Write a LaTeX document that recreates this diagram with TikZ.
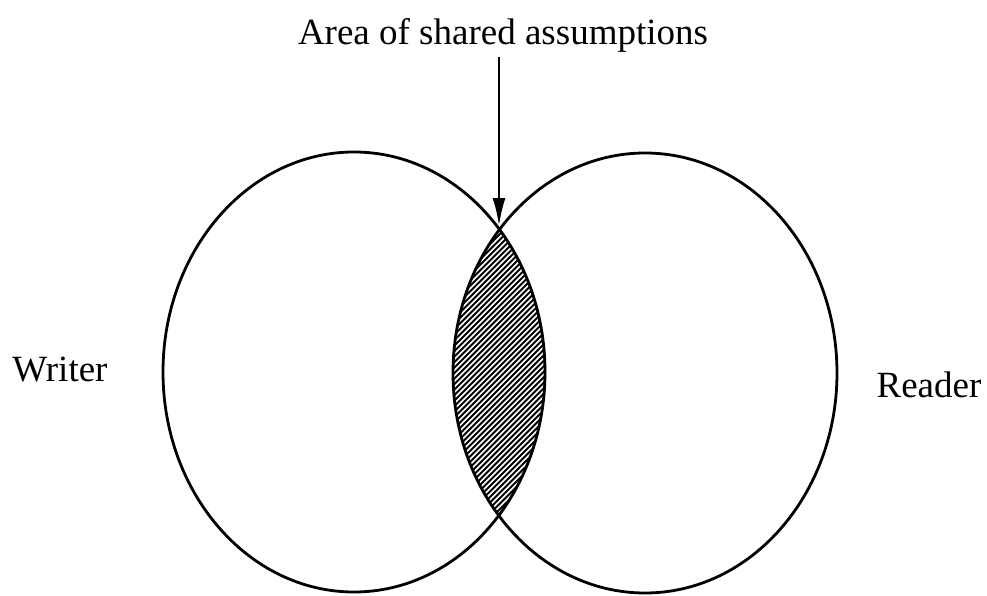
\documentclass[tikz,border=0pt]{standalone}
\usepackage{fontspec}
\setmainfont{Liberation Serif}
\usetikzlibrary{arrows.meta}
\begin{document}
\begin{tikzpicture}[x=1pt,y=-1pt,
  outline/.style={line width=2.8pt},
  hatch/.style={line width=1.8pt},
  lbl/.style={font=\fontsize{37}{42}\selectfont, inner sep=0pt, anchor=base},
  pointer/.style={line width=2.6pt, -{Latex[length=28pt,width=13pt]}}]
\useasboundingbox (0,0) rectangle (987,596);
% hatched overlap
\begin{scope}
  \clip (354,372) ellipse [x radius=191, y radius=220];
  \clip (645,373) ellipse [x radius=192, y radius=220];
  \foreach \c in {690,695.5,...,1040} {
    \draw[hatch] (\c-180,180) -- (\c-620,620);
  }
\end{scope}
% ellipses
\draw[outline] (354,372) ellipse [x radius=191, y radius=220];
\draw[outline] (645,373) ellipse [x radius=192, y radius=220];
% labels
\node[lbl] (title) at (503,45) {Area of shared assumptions};
\node[lbl] (writer) at (60,381) {Writer};
\node[lbl] (reader) at (929,397) {Reader};
\coordinate (top) at (499,226);
\coordinate (start) at (499,57);
\draw[pointer] (start) -- (top);
\end{tikzpicture}
\end{document}
